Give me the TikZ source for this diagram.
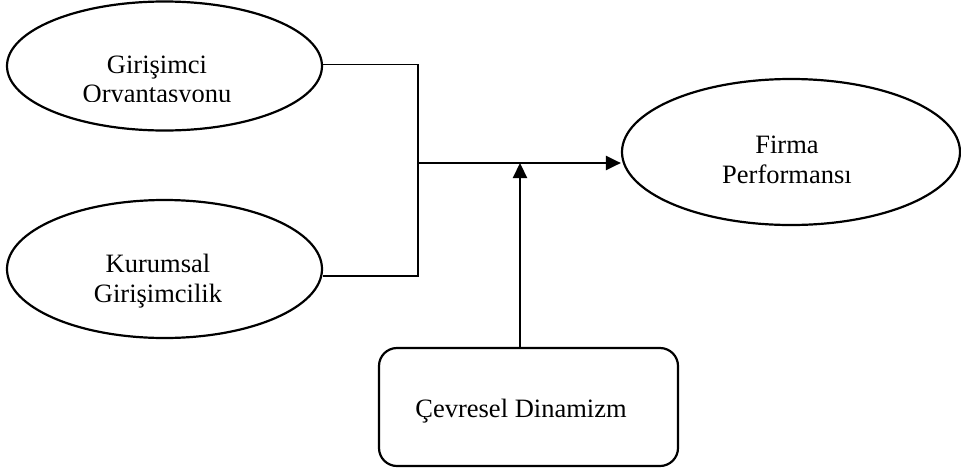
\documentclass[tikz,border=0pt]{standalone}
\usepackage{fontspec}
\setmainfont{Liberation Serif}
\usetikzlibrary{shapes.geometric,arrows.meta}
\tikzset{
  oval/.style={draw, ellipse, line width=2.2pt, inner sep=0pt},
  roundbox/.style={draw, rectangle, rounded corners=18pt, line width=2.2pt, inner sep=0pt},
  lbl/.style={anchor=base, inner sep=0pt, font=\fontsize{26.5}{30}\selectfont},
  bracket/.style={line width=1.7pt},
  flow/.style={line width=2.2pt, -{Triangle[length=15pt,width=14pt]}}
}
\begin{document}
\begin{tikzpicture}[x=1pt,y=-1pt]
  \useasboundingbox (0,0) rectangle (961,472);

  % ovals
  \node[oval, minimum width=315pt, minimum height=129pt] (go) at (164.5,66) {};
  \node[oval, minimum width=315pt, minimum height=138pt] (kg) at (164.5,269) {};
  \node[oval, minimum width=338pt, minimum height=146pt] (fp) at (791,152) {};
  % moderator box
  \node[roundbox, minimum width=299pt, minimum height=118pt] (cd) at (528.5,407) {};

  % labels
  \node[lbl] (go1) at (157,73) {Girişimci};
  \begin{scope}
    \clip (0,0) rectangle (961,101.5);
    \node[lbl] (go2) at (157,102) {Oryantasyonu};
  \end{scope}
  \node[lbl] (kg1) at (158,272) {Kurumsal};
  \node[lbl] (kg2) at (158,302) {Girişimcilik};
  \node[lbl] (fp1) at (787,153) {Firma};
  \node[lbl] (fp2) at (787,183) {Performansı};
  \node[lbl] (cd1) at (521,417) {Çevresel Dinamizm};

  % junction points
  \coordinate (jt) at (418,64.5);
  \coordinate (jb) at (418,276);
  \coordinate (jm) at (418,163);
  \coordinate (ja) at (520,163);

  % bracket joining the two ovals
  \draw[bracket] (go.east |- jt) -- (jt) -- (jb) -- (jb -| kg.east);
  % main path into firm performance
  \draw[flow] (jm) -- (jm -| fp.west);
  % moderator arrow
  \draw[flow] (ja |- cd.north) -- (ja);
\end{tikzpicture}
\end{document}
